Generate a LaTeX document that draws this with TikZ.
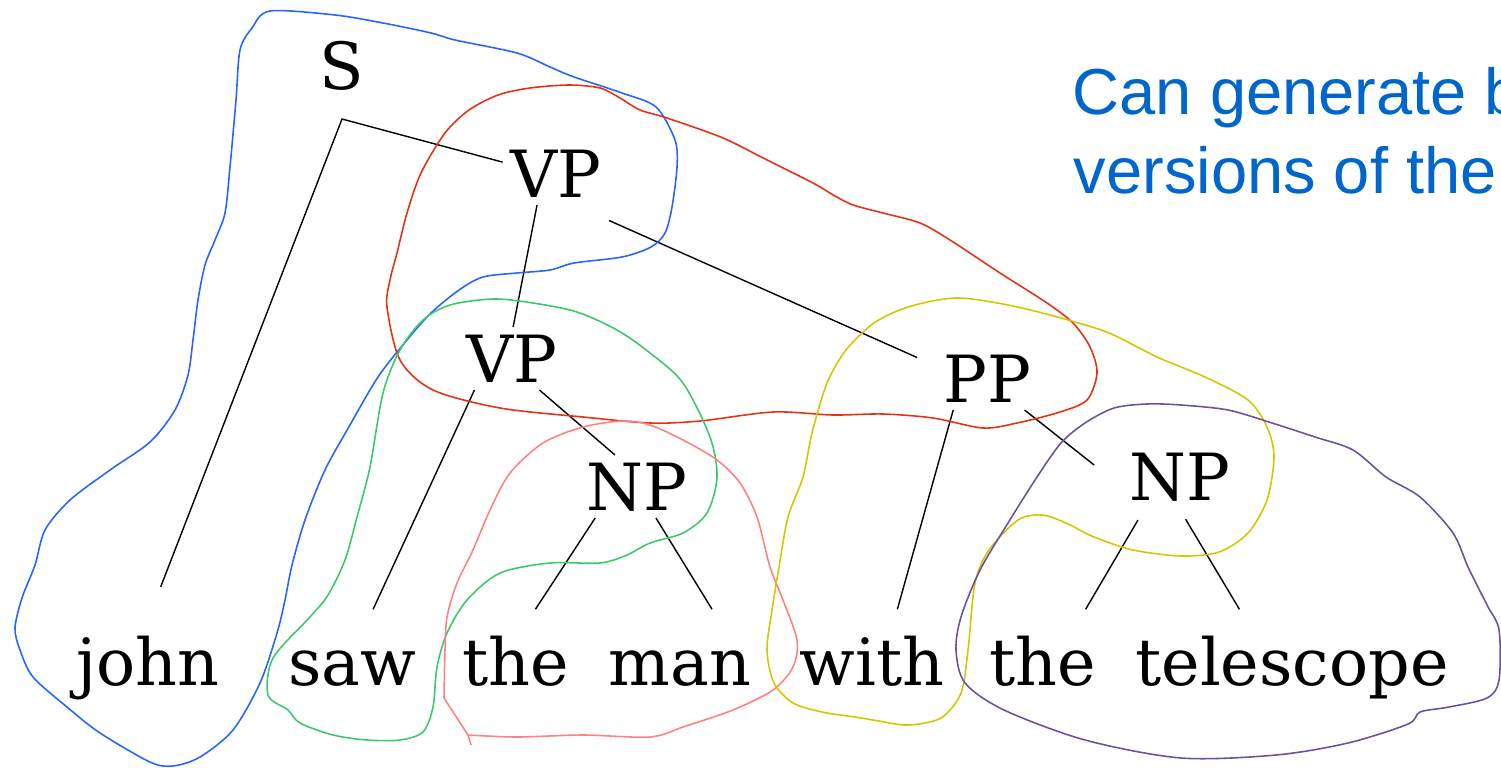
\documentclass[tikz,border=0pt]{standalone}
\usepackage{fontspec}
\usepackage{tikz}
\usetikzlibrary{positioning}

\newfontfamily\treefont{DejaVu Serif}
\newfontfamily\notefont{Liberation Sans}

\definecolor{noteblue}{RGB}{0,102,204}
\definecolor{loopblue}{RGB}{40,100,255}
\definecolor{loopred}{RGB}{230,50,20}
\definecolor{loopgreen}{RGB}{60,200,110}
\definecolor{looppink}{RGB}{255,130,130}
\definecolor{loopyellow}{RGB}{210,200,0}
\definecolor{loopviolet}{RGB}{110,80,160}

\begin{document}
\begin{tikzpicture}[x=0.01cm, y=-0.01cm,
    cat/.style={font=\treefont\fontsize{18.5}{22}\selectfont, anchor=base,
        inner sep=0pt, outer sep=0.08cm, text height=0.47cm, text depth=0pt},
    word/.style={font=\treefont\fontsize{18.5}{22}\selectfont, anchor=base,
        inner sep=0pt, text height=0.75cm, text depth=0.15cm},
    note/.style={font=\notefont\fontsize{18.5}{22}\selectfont, text=noteblue,
        anchor=base west, inner sep=0pt},
    branch/.style={line width=0.4pt},
    loop/.style={line width=0.45pt}]

\useasboundingbox (0,0) rectangle (1501,767);
\clip (0,0) rectangle (1501,767);

% Constituent labels
\node[cat] (S) at (342,90) {S};
\node[cat] (VP1) at (556,197) {VP};
\node[cat] (VP2) at (512,382) {VP};
\node[cat] (NP1) at (637,510) {NP};
\node[cat] (PP) at (987,402) {PP};
\node[cat] (NP2) at (1180,500) {NP};
\coordinate[below=0.21cm of S] (fork);

% Words of the sentence
\foreach \name/\x/\word in {john/148/john, saw/352/saw, theA/516/the, man/680/man,
        with/872/with, theB/1043/the, telescope/1292/telescope} {
    \node[word] (\name) at (\x,685) {\word};
}

% Side remark
\node[note] (note1) at (1072,115) {Can generate b};
\node[note] (note2) at (1073,193) {versions of the};

% Tree branches
\draw[branch, shorten <=0.24cm] (john.85) -- (fork) -- (VP1.168);
\draw[branch] (VP1.-121) -- (VP2.88);
\draw[branch, shorten <=0.38cm, shorten >=0.2cm] (VP1.-60) -- (PP.166);
\draw[branch] (VP2.220) -- (saw);
\draw[branch] (VP2.-49) -- (NP1.125);
\draw[branch] (NP1.217) -- (theA.67);
\draw[branch] (NP1.-59) -- (man.55);
\draw[branch] (PP.223) -- (with.61);
\draw[branch, shorten >=0.35cm] (PP.-40) -- (NP2.190);
\draw[branch, shorten <=0.14cm] (NP2.222) -- (theB.47);
\draw[branch, shorten <=0.13cm] (NP2.-92) -- (telescope.139);

% Hand-drawn loops round the constituents
\draw[loop, loopblue] plot[smooth cycle] coordinates {
    (270,11) (335,15) (383,23) (431,33) (455,40) (517,53) (550,67) (574,77)
    (622,93) (656,107) (675,140) (677,167) (672,207) (665,233) (651,247)
    (622,257) (574,263) (550,270) (517,273) (483,277) (459,290) (431,313)
    (407,340) (378,377) (350,425) (325,470) (305,520) (292,565) (285,600)
    (277,633) (260,683) (233,730) (200,757) (173,766) (150,762) (100,733)
    (67,707) (33,677) (20,650) (15,628) (22,598) (35,565) (45,530) (70,500)
    (110,470) (150,442) (175,410) (188,375) (193,340) (198,300) (205,265)
    (215,240) (225,213) (230,167) (236,100) (240,50) (252,28)};

\draw[loop, loopred] plot[smooth cycle] coordinates {
    (569,85) (600,88) (620,98) (640,110) (667,118) (723,138) (767,160)
    (813,183) (835,196) (853,205) (883,213) (920,223) (950,240) (1000,273)
    (1047,303) (1073,323) (1090,347) (1097,373) (1087,400) (1060,412)
    (1017,423) (983,428) (933,418) (883,414) (833,415) (773,412) (700,421)
    (650,423) (583,417) (500,408) (433,390) (400,360) (387,307) (390,280)
    (397,253) (407,213) (421,173) (445,133) (469,110) (498,95) (530,88)};

\draw[loop, loopgreen] plot[smooth cycle] coordinates {
    (493,299) (533,303) (577,312) (617,330) (650,353) (683,383) (710,437)
    (717,477) (707,513) (683,533) (650,543) (627,555) (600,563) (550,563)
    (500,573) (467,600) (447,633) (437,667) (433,707) (423,732) (400,740)
    (367,740) (333,735) (300,723) (288,710) (268,695) (273,658) (310,617)
    (328,595) (345,560) (357,517) (370,467) (383,393) (400,350) (423,320)
    (450,305)};

\draw[loop, looppink] plot[smooth] coordinates {
    (468,735) (517,737) (583,735) (650,737) (683,727) (733,710) (773,690)
    (793,667) (797,640) (783,600) (770,567) (757,517) (740,483) (717,460)
    (683,440) (650,425) (623,421) (583,427) (543,443) (510,473) (490,510)
    (473,550) (457,583) (447,617) (445,650) (444,698)} -- (468,735) -- (471,745);

\draw[loop, loopyellow] plot[smooth cycle] coordinates {
    (956,298) (1008,305) (1061,318) (1109,333) (1157,357) (1205,377)
    (1248,400) (1267,427) (1274,457) (1267,500) (1248,533) (1219,552)
    (1181,556) (1133,550) (1094,537) (1066,523) (1042,515) (1018,520)
    (989,550) (975,583) (968,650) (961,693) (941,718) (908,725) (879,721)
    (855,717) (822,712) (793,703) (774,683) (767,650) (772,610) (779,567)
    (788,517) (803,477) (812,433) (827,383) (846,350) (874,323) (908,307)};

\draw[loop, loopviolet] plot[smooth cycle] coordinates {
    (1147,404) (1181,405) (1228,410) (1272,423) (1315,437) (1353,450)
    (1386,477) (1420,497) (1453,533) (1468,567) (1487,605) (1499,630)
    (1499,680) (1487,698) (1449,707) (1420,712) (1408,724) (1348,743)
    (1276,755) (1181,758) (1085,740) (1004,710) (965,683) (956,650)
    (961,617) (980,570) (1008,523) (1037,477) (1061,443) (1085,423)
    (1114,408)};

\end{tikzpicture}
\end{document}
